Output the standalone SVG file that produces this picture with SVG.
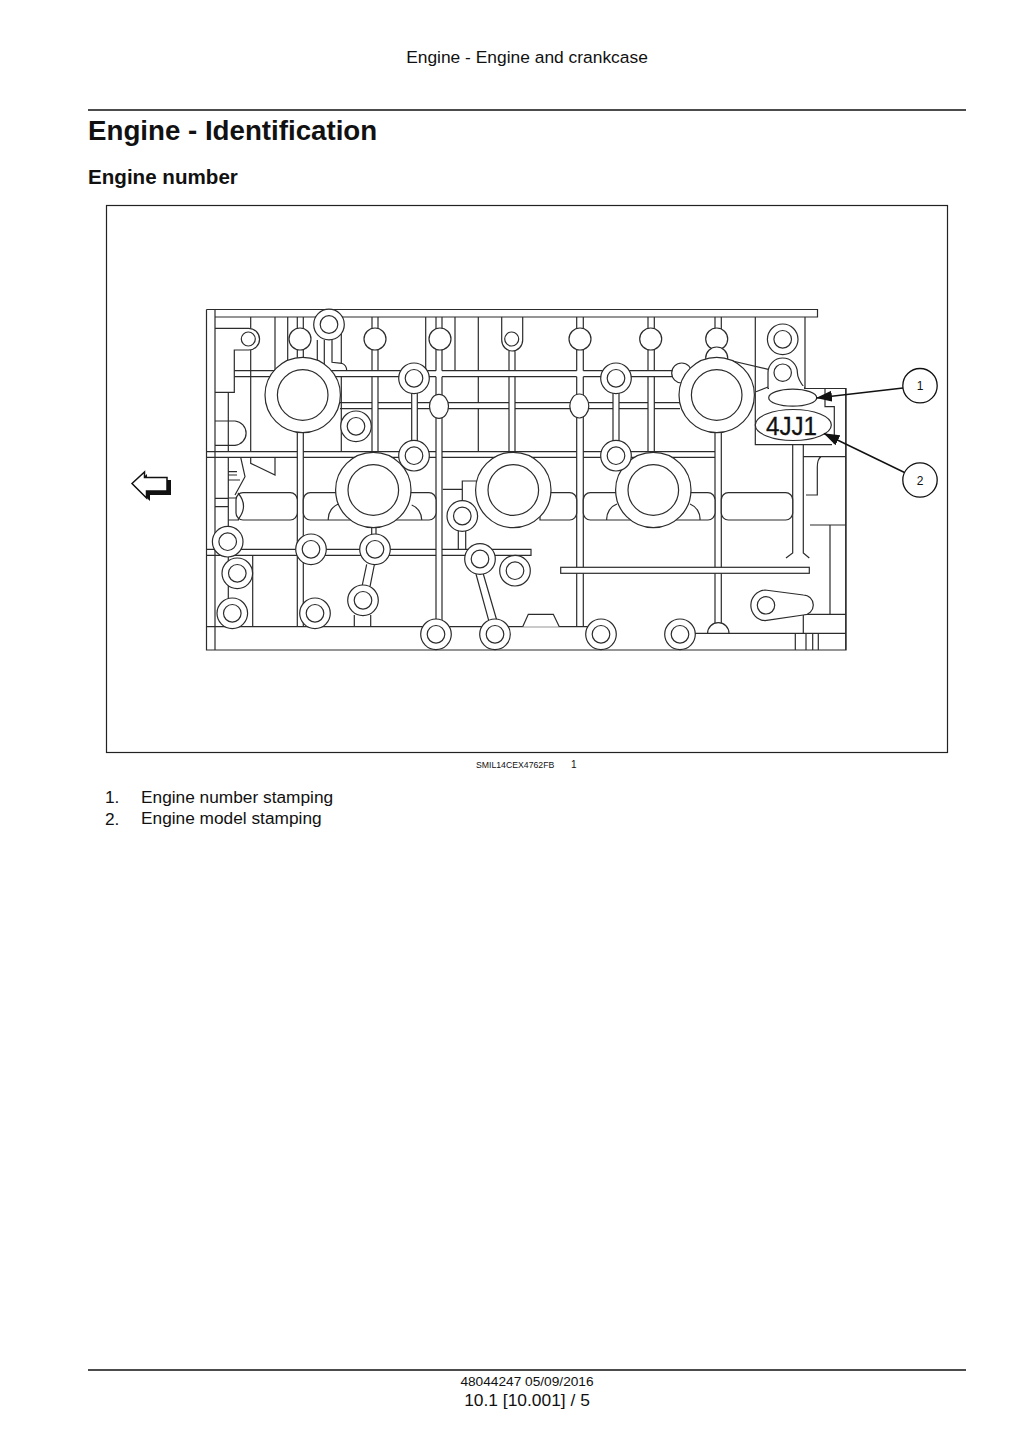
<svg xmlns="http://www.w3.org/2000/svg" xmlns:xlink="http://www.w3.org/1999/xlink" width="1024" height="1448" viewBox="0 0 1024 1448">
<style>
text{font-family:"Liberation Sans",Arial,sans-serif;fill:#111}
.l{fill:none;stroke:#2c2c2c;stroke-width:1.2}
.w{fill:#fff;stroke:#2c2c2c;stroke-width:1.2}
.rule{stroke:#111;stroke-width:1.6}
.lead{stroke:#111;stroke-width:1.4;fill:none;marker-end:url(#ah)}
.call{fill:#fff;stroke:#111;stroke-width:1.3}
</style>
<defs>
<marker id="ah" markerUnits="userSpaceOnUse" markerWidth="16" markerHeight="12" refX="15.5" refY="6" orient="auto"><path d="M0 0.5L16 6L0 11.5Z" fill="#111"/></marker>
<g id="ring"><circle class="w" r="15.3"/><circle class="w" r="8.8"/></g>
<g id="bigring"><circle class="w" r="37.7"/><circle class="w" r="25.3"/></g>
</defs>
<rect width="1024" height="1448" fill="#fff"/>
<g id="page-text">
<text x="527" y="63" font-size="17.4" text-anchor="middle">Engine - Engine and crankcase</text>
<line class="rule" x1="88" y1="110" x2="966" y2="110"/>
<text x="88" y="140" font-size="27.7" font-weight="700">Engine - Identification</text>
<text x="88" y="184" font-size="20.6" font-weight="700">Engine number</text>
<text x="476" y="768" font-size="8.7">SMIL14CEX4762FB</text>
<text x="571" y="768" font-size="10">1</text>
<text x="105" y="803" font-size="17.3">1.</text><text x="141" y="803" font-size="17.3">Engine number stamping</text>
<text x="105" y="825" font-size="17.3">2.</text><text x="141" y="824" font-size="17.3">Engine model stamping</text>
<line class="rule" x1="88" y1="1370" x2="966" y2="1370"/>
<text x="527" y="1386" font-size="13.7" text-anchor="middle">48044247 05/09/2016</text>
<text x="527" y="1406" font-size="17.4" text-anchor="middle">10.1 [10.001] / 5</text>
</g>
<rect id="frame" x="106.5" y="205.5" width="841" height="547" fill="none" stroke="#222" stroke-width="1.2"/>
<g id="drawing">
<path class="l" d="M206.5 309.5H817.5V317H215M206.5 309.5V650H846V388.5H805M215 309.5V650"/>
<path class="l" d="M206.5 626.7H588M695 633.3H846"/>
<path class="l" d="M206.5 451.7H297.3M206.5 457.3H297.3M303.3 451.7H436M303.3 457.3H436M442 451.7H576.7M442 457.3H576.7M583.3 451.7H715M583.3 457.3H715"/>
<path class="l" d="M234.3 370.7H436M234.3 376.7H436M442 370.7H576.7M442 376.7H576.7M583.3 370.7H680M583.3 376.7H680"/>
<path class="l" d="M340 402.7H372M340 408.7H372M378 402.7H411.7M378 408.7H411.7M417.3 402.7H509M417.3 408.7H509M515 402.7H613M515 408.7H613M619 402.7H648M619 408.7H648M654.3 402.7H680M654.3 408.7H680"/>
<path class="l" d="M206.5 549.3H297.3M206.5 555.3H297.3M303.3 549.3H436M303.3 555.3H436M442 549.3H531V555.3H442"/>
<path class="l" d="M215 328.3H248.7A10.85 10.85 0 0 1 248.7 350H234.3V392.3H215M228.3 392.3V451.7M215 421H235A12.2 12.2 0 0 1 235 445.3H215"/>
<path class="l" d="M250.7 317V328.3M250.7 350V451.7M250.7 457.3V463.3L275 475V457.3M275 317V371M287.7 317V371M297.3 317V330M303.3 317V330M297.3 345V626.7M303.3 345V626.7"/>
<path class="l" d="M317.3 340V362M324.3 340V365M332 339V362.3L341.7 363.3Q346.7 365 346.7 370.7M341.3 317V363M341.3 376.7V451.7"/>
<path class="l" d="M372 317V370.7M378 317V370.7M372 376.7V451.7M378 376.7V451.7"/>
<path class="l" d="M425.7 317V370.7M436 317V370.7M442 317V370.7M455 317V370.7M478.3 317V370.7M478.3 376.7V402.7M478.3 408.7V451.7M436 376.7V626.7M442 376.7V626.7M411.7 385V450M417.3 385V450"/>
<path class="l" d="M501.7 317V340A10.5 11 0 0 0 522.7 340V317M509 350V370.7M515 350V370.7M509 376.7V452M515 376.7V452"/>
<path class="l" d="M576.7 317V370.7M583.3 317V370.7M576.7 376.7V626.7M583.3 376.7V626.7M613 385V450M619 385V450M648 317V370.7M654.3 317V370.7M648 376.7V452M654.3 376.7V452M715 317V624M721.3 317V624"/>
<path class="l" d="M755.3 317V444.7H832M805 317V388M825 389V406.7H834.3V444M845.7 388.5V650"/>
<path class="l" d="M792.7 444.7V553L786 558M803.3 444.7V553L809.3 558M803.3 456.7H846M821 456.7Q817.3 459 817.3 467V495H806M810 525H845.7M830 525V614.3M803.3 614.3H846M803.3 614.3V633.3M795.3 633.3V650M806 633.3V650M812.7 633.3V650M818.3 633.3V650"/>
<path class="l" d="M728.3 360L768.3 369.3M756 391.7L768 387"/>
<path class="l" d="M442.7 489.3H462.3V503.3M462.3 489.3V481H476.7M458.3 530V549.3M465.7 530V549.3"/>
<path class="l" d="M228.3 457.3V626.7M252.7 555.3V626.7M215 498.3H228.3M215 506.7H228.3M228.3 471.7H237M228.3 475H237M228.3 480H240M240.7 457.3L245 476.7L235 495"/>
<path class="w" d="M243 492.7H290.3A7 7 0 0 1 297.3 499.7V513A7 7 0 0 1 290.3 520H243A7 7 0 0 1 236 513V499.7A7 7 0 0 1 243 492.7Z"/>
<path class="l" d="M238 493Q249 506 238 519.5M228.3 498H236M228.3 520H239"/>
<path class="w" d="M310.3 492.7H429A7 7 0 0 1 436 499.7V513A7 7 0 0 1 429 520H310.3A7 7 0 0 1 303.3 513V499.7A7 7 0 0 1 310.3 492.7Z"/>
<path class="w" d="M540 492.7H569.7A7 7 0 0 1 576.7 499.7V513A7 7 0 0 1 569.7 520H540Z"/>
<path class="w" d="M590.3 492.7H708A7 7 0 0 1 715 499.7V513A7 7 0 0 1 708 520H590.3A7 7 0 0 1 583.3 513V499.7A7 7 0 0 1 590.3 492.7Z"/>
<rect class="w" x="721.3" y="492.7" width="71.4" height="27.3" rx="7"/>
<path class="l" d="M328.3 520A16 16 0 0 1 340 503.5M421.7 520A16 16 0 0 0 411.7 505M606.7 520A16 16 0 0 1 617 504M700 520A16 16 0 0 0 690 504"/>
<path class="l" d="M371.7 528V537M376 528V537M366.7 564.3L362.3 585M374.3 565L370 586.7M354.3 615V626.7M370.7 615V626.7M476 574L489.3 622.7M483.3 574L496.7 620"/>
<rect class="w" x="560.7" y="567.3" width="248.6" height="6"/>
<path class="w" d="M522.7 626.7L528.3 614.3H553.3L559.3 626.7"/>
<path class="w" d="M707.6 633.3A10.7 10.7 0 0 1 729 633.3Z"/>
<ellipse class="w" cx="439" cy="406.3" rx="9.5" ry="12"/>
<ellipse class="w" cx="579.3" cy="406" rx="9.5" ry="12"/>
<circle class="w" cx="300" cy="339" r="11"/><circle class="w" cx="375" cy="339" r="11"/><circle class="w" cx="440" cy="339" r="11"/><circle class="w" cx="580" cy="339" r="11"/><circle class="w" cx="650.7" cy="339" r="11"/><circle class="w" cx="716.7" cy="339" r="11"/>
<circle class="l" cx="248.3" cy="339" r="7"/><circle class="l" cx="511.7" cy="339" r="7"/>
<circle class="w" cx="681.7" cy="373" r="10"/>
<circle class="w" cx="716.7" cy="358" r="11"/>
<use xlink:href="#bigring" href="#bigring" x="302.7" y="395"/>
<use xlink:href="#bigring" href="#bigring" x="716.7" y="395"/>
<use xlink:href="#bigring" href="#bigring" x="373.3" y="490"/>
<use xlink:href="#bigring" href="#bigring" x="513.3" y="490"/>
<use xlink:href="#bigring" href="#bigring" x="653.3" y="490"/>
<use xlink:href="#ring" href="#ring" x="329" y="324.5"/>
<use xlink:href="#ring" href="#ring" x="414" y="378.3"/>
<use xlink:href="#ring" href="#ring" x="414" y="455.7"/>
<use xlink:href="#ring" href="#ring" x="356" y="426.3"/>
<use xlink:href="#ring" href="#ring" x="616" y="378.3"/>
<use xlink:href="#ring" href="#ring" x="616" y="455.7"/>
<use xlink:href="#ring" href="#ring" x="782.7" y="339.3"/>
<use xlink:href="#ring" href="#ring" x="462.3" y="516"/>
<use xlink:href="#ring" href="#ring" x="227.7" y="541.7"/>
<use xlink:href="#ring" href="#ring" x="237.3" y="573.3"/>
<use xlink:href="#ring" href="#ring" x="232.3" y="613.3"/>
<use xlink:href="#ring" href="#ring" x="311" y="549.3"/>
<use xlink:href="#ring" href="#ring" x="315" y="613.3"/>
<use xlink:href="#ring" href="#ring" x="375" y="549.3"/>
<use xlink:href="#ring" href="#ring" x="363" y="600.3"/>
<use xlink:href="#ring" href="#ring" x="480" y="559"/>
<use xlink:href="#ring" href="#ring" x="515" y="570.7"/>
<use xlink:href="#ring" href="#ring" x="436" y="634.3"/>
<use xlink:href="#ring" href="#ring" x="495" y="634.3"/>
<use xlink:href="#ring" href="#ring" x="601" y="634.3"/>
<use xlink:href="#ring" href="#ring" x="680" y="634.3"/>
<path class="w" d="M768 387V372.7A14.7 14.7 0 0 1 797.4 372.7Q797.4 379 805 388.5H768Z"/>
<path fill="#fff" d="M769 386H804V390H769Z"/>
<circle class="l" cx="782.7" cy="372.7" r="8.7"/>
<path class="w" d="M765 590L803.3 595A10 10 0 0 1 803.3 615L765 620.7A15.4 15.4 0 0 1 765 590Z"/>
<circle class="w" cx="766" cy="605.3" r="8.7"/>
<ellipse class="w" cx="792.7" cy="397.7" rx="24" ry="8.5"/>
<ellipse class="w" cx="793.3" cy="425" rx="38" ry="15.5"/>
<text x="791.5" y="435" font-size="25" text-anchor="middle" textLength="51" lengthAdjust="spacingAndGlyphs" stroke="#111" stroke-width="0.3">4JJ1</text>
</g>
<g id="direction-arrow">
<path fill="#111" d="M147 474V480H171V495H150V501L134 486Z"/>
<path fill="#fff" stroke="#111" stroke-width="1.5" d="M132 483.5L144.5 472V477.5H167V491H146.5V498Z"/>
</g>
<g id="connectors">
<line class="lead" x1="903" y1="388" x2="816.5" y2="398"/>
<line class="lead" x1="904.5" y1="472.5" x2="824" y2="433.5"/>
</g>
<g id="callout-1"><circle class="call" cx="920" cy="385.7" r="17.2"/><text x="920" y="390" font-size="12" text-anchor="middle">1</text></g>
<g id="callout-2"><circle class="call" cx="920" cy="480" r="17.2"/><text x="920" y="484.5" font-size="12" text-anchor="middle">2</text></g>
</svg>
